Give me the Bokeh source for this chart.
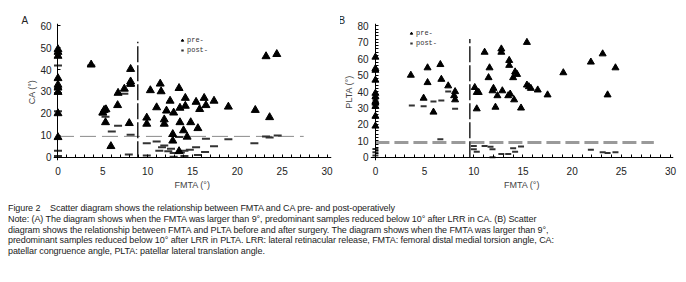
from bokeh.plotting import figure
from bokeh.models import Range1d, FixedTicker, Legend, LegendItem, Div, LinearAxis
from bokeh.layouts import row, column
from bokeh.embed import file_html
from bokeh.resources import INLINE

# ---------------- data ----------------
x_ticks = [0, 5, 10, 15, 20, 25, 30]
x_minor = list(range(0, 31))
a_y_ticks = [0, 10, 20, 30, 40, 50, 60]
b_y_ticks = [0, 10, 20, 30, 40, 50, 60, 70, 80]
b_y_minor = list(range(0, 81, 2))

a_pre_fmta = [0, 0, 0, 0, 0, 0, 0, 0, 0,
              3.7, 8.1, 8.1, 8.1, 6.7, 7.4, 6.65, 5.0, 5.15, 5.35, 5.3, 5.9, 7.95,
              9.9, 9.9, 10.3, 11.0, 11.4, 11.5, 11.85, 11.85, 12.1, 12.5, 12.9, 12.8, 12.8,
              13.5, 13.6, 13.6, 13.5, 14.0, 14.2, 14.2, 14.4, 14.8, 15.4, 15.6, 15.8,
              16.3, 16.5, 17.4, 19.0, 22.0, 23.6, 23.2, 24.4]
a_pre_ca = [49.2, 48, 46.2, 36, 33, 31.7, 29.7, 20, 9.1,
            42.2, 40.2, 34.5, 33.5, 29.3, 31.2, 23.7, 20.3, 21.5, 21.8, 15.9, 5, 15.5,
            18, 15.2, 30.5, 22.7, 33.5, 30, 17.2, 15.2, 21.2, 25.7, 20.3, 10.5, 7.5,
            31.5, 22.5, 15.9, 2.7, 12.2, 27, 23.4, 9.3, 15.9, 25.2, 13.2, 21.9,
            27, 23.7, 25.7, 23, 21.5, 18.2, 46, 47]

a_post_fmta = [0, 0, 0, 0, 0, 0,
               3.7, 5.0, 5.3, 6.0, 6.7, 7.4, 8.1, 8.1, 7.9, 9.9, 9.9, 11.0, 11.85,
               11.6, 12.6, 12.3, 11.3, 12.9, 14.1, 13.7, 14.7, 15.4, 16.4, 17.4,
               19.0, 16.5, 12.9, 14.1, 15.6, 13.5, 21.9, 23.6, 24.5, 23.2]
a_post_ca = [41.8, 31.2, 29.3, 21, 3, 0.5,
             41.8, 19.5, 18.5, 11.7, 14.3, 29, 32.5, 10.2, 1.2, 6.4, 0.8, 7.2, 5.4,
             4.5, 3.9, 2.7, 3, 1.9, 3, 2.2, 3.4, 4.5, 2.4, 5,
             8.2, 8.4, 0.2, 0.5, 1, 9.2, 6.4, 9, 9.9, 9.5]

b_pre_fmta = [0, 0, 0, 0, 0, 0, 0, 0, 0, 0, 0,
              3.6, 5.3, 5.3, 4.9, 6.6, 6.7, 5.9, 7.4, 8.0, 8.1, 8.1,
              10.1, 10.3, 10.5, 10.3, 11.1, 11.5, 11.6, 11.9, 12.0, 12.4, 12.2,
              12.8, 12.8, 12.9, 13.5, 13.6, 13.6, 13.7, 14.0, 14.2, 14.4, 14.1,
              14.8, 15.4, 15.6, 15.8, 16.5, 15.4, 17.5, 19.1, 21.9, 23.1, 23.6, 24.4]
b_pre_plta = [61, 54, 53, 47, 39, 37, 34, 33, 31, 25, 19,
              50, 54.5, 45.5, 36, 56.5, 47.5, 27.5, 43.5, 37.5, 40, 35,
              42.5, 39.5, 39.5, 29.5, 64, 48.5, 54.5, 40.5, 42, 37.5, 30.5,
              66, 64, 40.5, 37.5, 59, 56, 38.5, 48.5, 52, 50.5, 35,
              30, 44, 43, 42, 41, 70, 38, 51.5, 58, 63, 38, 54.5]

b_post_fmta = [0, 0, 0, 0, 0, 0,
               3.7, 4.9, 5.9, 6.7, 7.4, 8.1, 6.6, 10.0, 10.0, 10.3, 11.1, 11.7, 11.9,
               11.9, 12.8, 13.5, 14.0, 14.2, 14.8, 21.9, 23.1, 23.6, 24.4]
b_post_plta = [35, 30, 24, 5, 3, 1,
               31.5, 31, 34, 34.5, 40, 29.5, 11, 6.9, 4.9, 3.4, 6.9, 6.4, 4.9,
               0, 2, 2, 5.5, 3.4, 6.5, 4.5, 3, 2.5, 3]

# reference lines
a_ref_ca = 9.5
a_ref_ca_end = 27.4
a_ref_fmta = 8.9
a_ref_fmta_top = 52.7
b_ref_plta = 8.9
b_ref_plta_end = 28.3
b_ref_fmta = 9.6
b_ref_fmta_top = 72

caption_lines = [
    "Figure 2&nbsp;&nbsp;&nbsp; Scatter diagram shows the relationship between FMTA and CA pre- and post-operatively",
    "Note: (A) The diagram shows when the FMTA was larger than 9°, predominant samples reduced below 10° after LRR in CA. (B) Scatter",
    "diagram shows the relationship between FMTA and PLTA before and after surgery. The diagram shows when the FMTA was larger than 9°,",
    "predominant samples reduced below 10° after LRR in PLTA. LRR: lateral retinacular release, FMTA: femoral distal medial torsion angle, CA:",
    "patellar congruence angle, PLTA: patellar lateral translation angle.",
]

SANS = "Liberation Sans"


def style_axes(p, y_ticks, y_minor, ylabel):
    # label-only axes on the frame edges
    p.xaxis.ticker = FixedTicker(ticks=x_ticks, minor_ticks=[])
    p.yaxis.ticker = FixedTicker(ticks=y_ticks, minor_ticks=[])
    for ax in (p.xaxis, p.yaxis):
        ax.axis_line_color = None
        ax.major_tick_line_color = None
        ax.minor_tick_line_color = None
        ax.major_tick_in = 0
        ax.major_tick_out = 0
        ax.minor_tick_in = 0
        ax.minor_tick_out = 0
        ax.major_label_text_font = SANS
        ax.major_label_text_font_size = "10px"
        ax.major_label_text_color = "#222222"
        ax.axis_label_text_font = SANS
        ax.axis_label_text_font_size = "9px"
        ax.axis_label_text_font_style = "normal"
        ax.axis_label_text_color = "#444444"
    p.xaxis.axis_label = "FMTA (°)"
    p.yaxis.axis_label = ylabel
    p.xaxis.major_label_standoff = 6
    p.xaxis.axis_label_standoff = 2
    p.yaxis.major_label_standoff = 2
    p.yaxis.axis_label_standoff = 0
    # axis line + tick marks drawn through zero (no labels: only minor ticks are used)
    xa = LinearAxis(ticker=FixedTicker(ticks=[], minor_ticks=x_minor), fixed_location=0,
                    major_tick_in=0, major_tick_out=0, minor_tick_in=3, minor_tick_out=0,
                    major_label_standoff=0,
                    axis_line_color="black", minor_tick_line_color="black")
    ya = LinearAxis(ticker=FixedTicker(ticks=[], minor_ticks=y_minor), fixed_location=0,
                    major_tick_in=0, major_tick_out=0, minor_tick_in=3, minor_tick_out=0,
                    major_label_standoff=0,
                    axis_line_color="black", minor_tick_line_color="black")
    p.add_layout(xa, "below")
    p.add_layout(ya, "left")
    p.grid.visible = False
    p.outline_line_color = None
    p.background_fill_color = "white"
    p.border_fill_color = "white"


def make_panel(width, xr, yr, borders, pre_x, pre_y, post_x, post_y, y_ticks, y_minor, ylabel,
               tri_size, dash_size, hval, hend, hwidth, hcolor, hdash, vval, vtop, legend_loc,
               letter, letter_offset):
    p = figure(width=width, height=198, x_range=Range1d(*xr), y_range=Range1d(*yr),
               output_backend="svg", toolbar_location=None,
               min_border_left=borders[0], min_border_right=borders[1],
               min_border_top=borders[2], min_border_bottom=borders[3])
    p.title.text = letter
    p.title.align = "left"
    p.title.offset = letter_offset
    p.title.standoff = -4
    p.title.text_font = SANS
    p.title.text_font_size = "10px"
    p.title.text_font_style = "normal"
    p.title.text_color = "#222222"
    style_axes(p, y_ticks, y_minor, ylabel)
    p.segment(x0=[0], y0=[hval], x1=[hend], y1=[hval], line_color=hcolor,
              line_width=hwidth, line_dash=hdash)
    p.segment(x0=[vval], y0=[0], x1=[vval], y1=[vtop], line_color="black",
              line_width=1.3, line_dash="16 3")
    rpost = p.scatter(post_x, post_y, marker="dash", size=dash_size, line_color="#333333",
                      line_width=2)
    rpre = p.scatter(pre_x, pre_y, marker="triangle", size=tri_size, fill_color="black",
                     line_color="black")
    leg = Legend(items=[LegendItem(label="pre-", renderers=[rpre]),
                        LegendItem(label="post-", renderers=[rpost])],
                 location=legend_loc, orientation="vertical",
                 label_text_font="Liberation Mono", label_text_font_size="7px",
                 label_text_color="#333333",
                 glyph_width=6, glyph_height=6, label_height=8, label_standoff=2,
                 spacing=2, padding=0, margin=0,
                 border_line_color=None, background_fill_alpha=0)
    p.add_layout(leg, "center")
    return p


pA = make_panel(340, (-0.5, 30.5), (-1.5, 61), (53, 9, 21, 38),
                a_pre_fmta, a_pre_ca, a_post_fmta, a_post_ca, a_y_ticks, a_y_ticks, "CA (°)",
                8, 8, a_ref_ca, a_ref_ca_end, 1, "#8a8a8a", "16 6",
                a_ref_fmta, a_ref_fmta_top, (126, 106), "A", -32)

pB = make_panel(346, (-0.5, 30.3), (-2, 81.5), (30, 13, 23, 38),
                b_pre_fmta, b_pre_plta, b_post_fmta, b_post_plta, b_y_ticks, b_y_minor, "PLTA (°)",
                7, 6, b_ref_plta, b_ref_plta_end, 3, "#9a9a9a", "14 5",
                b_ref_fmta, b_ref_fmta_top, (38, 113), "B", -32)

cap = Div(text="<br>".join(caption_lines), width=686, height=84,
          styles={"font-family": "'Liberation Sans', sans-serif",
                  "font-size": "9px", "letter-spacing": "-0.08px",
                  "line-height": "10.8px", "color": "#222222",
                  "white-space": "nowrap", "padding-left": "3px"})

layout = column(row(pA, pB), cap)
open("out.html", "w").write(file_html(layout, INLINE))
